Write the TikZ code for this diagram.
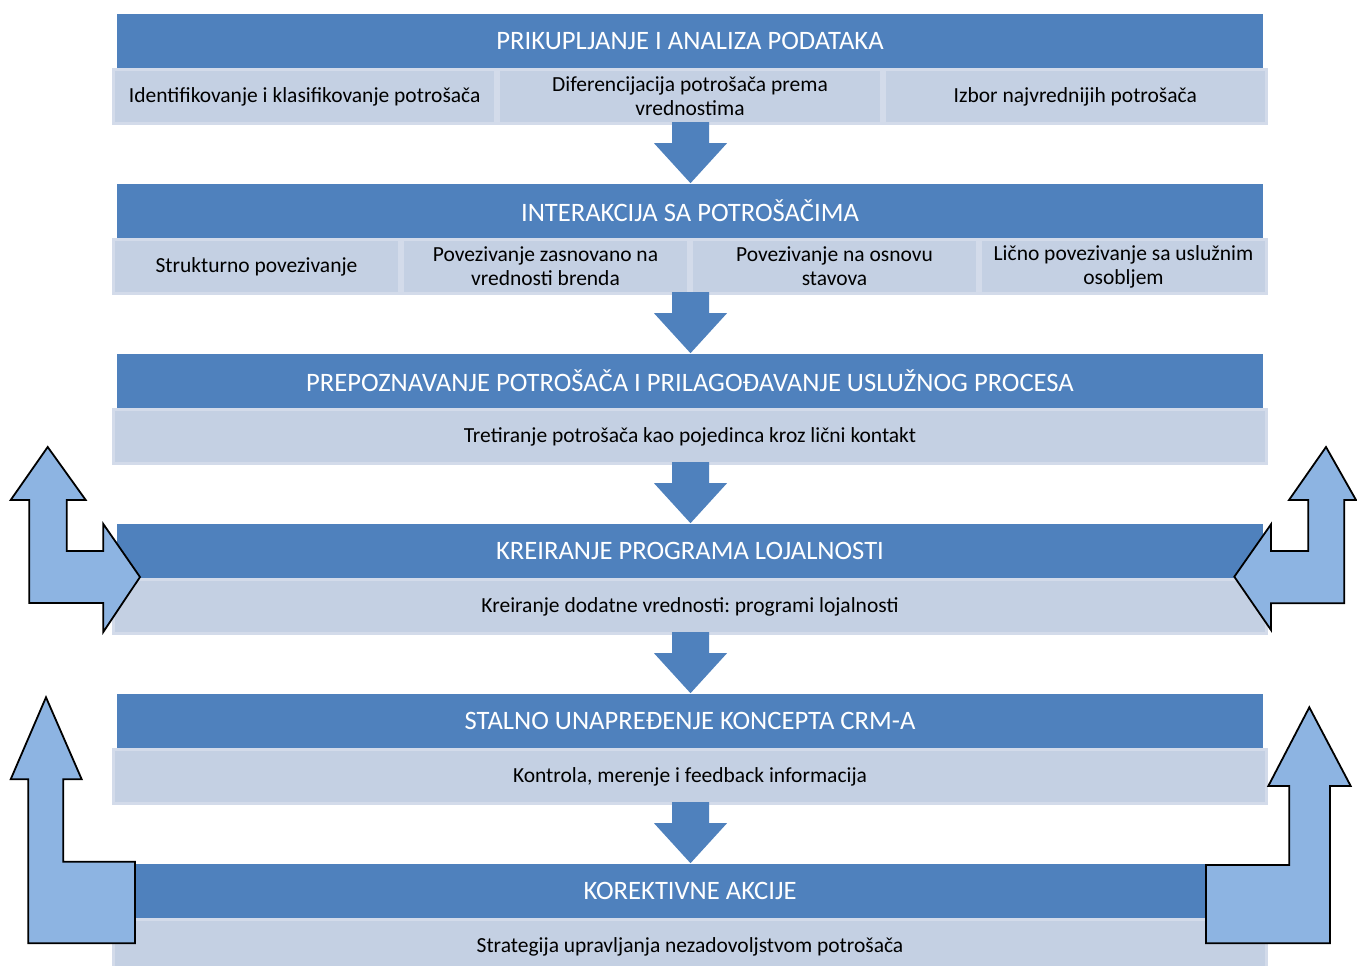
\documentclass[tikz,border=0pt]{standalone}
\usepackage{fontspec}
\setmainfont{Carlito}
\usetikzlibrary{calc}
\frenchspacing
\definecolor{hdrblue}{HTML}{4F81BD}
\definecolor{cellfill}{HTML}{C4D0E3}
\definecolor{cellrim}{HTML}{D3DBEA}
\definecolor{bentfill}{HTML}{8DB4E2}
\tikzset{
  hdr/.style={fill=hdrblue, text=white, minimum width=1146, minimum height=54,
    inner sep=0, font=\fontsize{26.6}{30}\selectfont},
  cell/.style={fill=cellfill, draw=cellrim, line width=3, minimum height=54,
    inner sep=0, align=center, text=black, font=\fontsize{21.5}{24}\selectfont},
  cellthree/.style={cell, minimum width=382.3},
  cellfour/.style={cell, minimum width=286},
  cellfull/.style={cell, minimum width=1153},
  bent/.style={fill=bentfill, draw=black, line width=1.8, line join=miter},
  blockdown/.pic={
    \fill[hdrblue] (-18.5,-3) -- (18.5,-3) -- (18.5,18) -- (36.5,18) -- (0,58)
      -- (-36.5,18) -- (-18.5,18) -- cycle;
  }
}
\begin{document}
\begin{tikzpicture}[x=1pt,y=-1pt]
\useasboundingbox (0,0) rectangle (1357,966);
\clip (0,0) rectangle (1357,966);

% stage headers
\node[hdr] (h1) at (690,41) {PRIKUPLJANJE I ANALIZA PODATAKA};
\node[hdr] (h2) at (690,211) {INTERAKCIJA SA POTROŠAČIMA};
\node[hdr] (h3) at (690,381) {PREPOZNAVANJE POTROŠAČA I PRILAGOĐAVANJE USLUŽNOG PROCESA};
\node[hdr] (h4) at (690,551) {KREIRANJE PROGRAMA LOJALNOSTI};
\node[hdr] (h5) at (690,721) {STALNO UNAPREĐENJE KONCEPTA CRM-A};
\node[hdr] (h6) at (690,891) {KOREKTIVNE AKCIJE};

% stage details
\node[cellthree] (a1) at (304.7,96.5) {Identifikovanje i klasifikovanje potrošača};
\node[cellthree] (a2) at (690,96.5) {Diferencijacija potrošača prema\\vrednostima};
\node[cellthree] (a3) at (1075.3,96.5) {Izbor najvrednijih potrošača};

\node[cellfour] (b1) at (256.5,266.5) {Strukturno povezivanje};
\node[cellfour] (b2) at (545.5,266.5) {Povezivanje zasnovano na\\vrednosti brenda};
\node[cellfour] (b3) at (834.5,266.5) {Povezivanje na osnovu\\stavova};
\node[cellfour] (b4) at (1123.5,266.5) {Lično povezivanje sa uslužnim\\osobljem};

\node[cellfull] (c1) at (690,436.5) {Tretiranje potrošača kao pojedinca kroz lični kontakt};
\node[cellfull] (d1) at (690,606.5) {Kreiranje dodatne vrednosti: programi lojalnosti};
\node[cellfull] (e1) at (690,776.5) {Kontrola, merenje i feedback informacija};
\node[cellfull] (f1) at (690,946.5) {Strategija upravljanja nezadovoljstvom potrošača};

% flow between stages, just below each stage's detail row
\foreach \s in {h1,h2,h3,h4,h5}
  \pic at ($(\s.south)+(0.5,57)$) {blockdown};

% feedback arrows
\draw[bent] (47.7,447) -- (85.7,500) -- (66.7,500) -- (66.7,551) -- (103.3,551)
  -- (103.3,524) -- (140,577) -- (103.3,632) -- (103.3,603) -- (29.3,603)
  -- (29.3,500) -- (10.7,500) -- cycle;
\draw[bent] (1326,447) -- (1356,500) -- (1344.3,500) -- (1344.3,603.3) -- (1271,603.3)
  -- (1271,630) -- (1234.3,576.7) -- (1271,524.3) -- (1271,551) -- (1308.3,551)
  -- (1308.3,500) -- (1289,500) -- cycle;
\draw[bent] (46,697.3) -- (81.7,779.3) -- (63.3,779.3) -- (63.3,861.7) -- (135,861.7)
  -- (135,943.3) -- (28.3,943.3) -- (28.3,779.3) -- (10.7,779.3) -- cycle;
\draw[bent] (1309.3,707.3) -- (1350.7,786) -- (1330,786) -- (1330,943.3) -- (1206,943.3)
  -- (1206,865) -- (1289.3,865) -- (1289.3,786) -- (1268.3,786) -- cycle;
\end{tikzpicture}
\end{document}
